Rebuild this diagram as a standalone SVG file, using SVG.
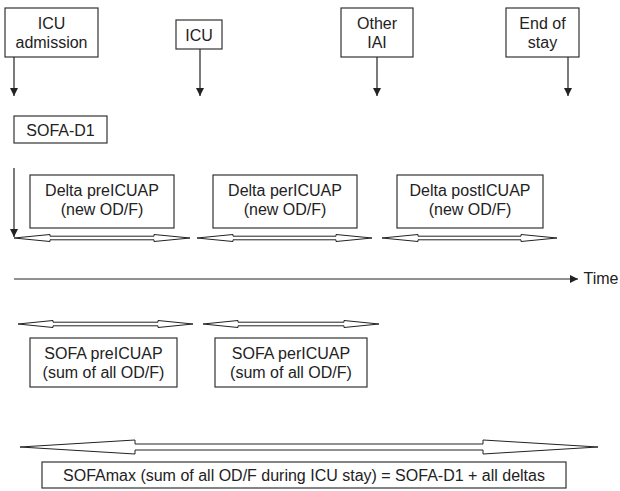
<svg xmlns="http://www.w3.org/2000/svg" width="620" height="491" viewBox="0 0 620 491">
<style>
.box{fill:#fff;stroke:#333;stroke-width:1.2}
.t{font-family:"Liberation Sans",Arial,sans-serif;font-size:16px;fill:#222;text-anchor:middle}
.ln{stroke:#222;stroke-width:1.2;fill:none}
.dbl{fill:#fff;stroke:#222;stroke-width:1}
</style>
<defs>
<marker id="ah" viewBox="0 0 10 10" refX="10" refY="5" markerWidth="8" markerHeight="8" markerUnits="userSpaceOnUse" orient="auto">
<path d="M0,0 L10,5 L0,10 z" fill="#222"/>
</marker>
</defs>
<rect width="620" height="491" fill="#fff"/>

<g id="icu-admission"><rect class="box" x="5" y="8" width="93" height="49"/><text class="t" x="51.5" y="29">ICU</text><text class="t" x="51.5" y="48">admission</text></g>
<g id="icu"><rect class="box" x="176" y="20" width="46" height="29"/><text class="t" x="199" y="41">ICU</text></g>
<g id="other-iai"><rect class="box" x="341" y="8" width="72" height="49"/><text class="t" x="377" y="29">Other</text><text class="t" x="377" y="48">IAI</text></g>
<g id="end-of-stay"><rect class="box" x="506" y="8" width="73" height="49"/><text class="t" x="542.5" y="29">End of</text><text class="t" x="542.5" y="48">stay</text></g>

<g id="sofa-d1"><rect class="box" x="14" y="116" width="93" height="27"/><text class="t" x="60.5" y="136">SOFA-D1</text></g>

<g id="delta-pre"><rect class="box" x="30" y="175" width="144" height="53"/><text class="t" x="102" y="196">Delta preICUAP</text><text class="t" x="102" y="215">(new OD/F)</text></g>
<g id="delta-per"><rect class="box" x="213" y="175" width="144" height="53"/><text class="t" x="285" y="196">Delta perICUAP</text><text class="t" x="285" y="215">(new OD/F)</text></g>
<g id="delta-post"><rect class="box" x="397" y="175" width="146" height="53"/><text class="t" x="470" y="196">Delta postICUAP</text><text class="t" x="470" y="215">(new OD/F)</text></g>

<g id="sofa-pre"><rect class="box" x="30" y="338" width="147" height="49"/><text class="t" x="103.5" y="359">SOFA preICUAP</text><text class="t" x="103.5" y="378">(sum of all OD/F)</text></g>
<g id="sofa-per"><rect class="box" x="215" y="338" width="152" height="49"/><text class="t" x="291" y="359">SOFA perICUAP</text><text class="t" x="291" y="378">(sum of all OD/F)</text></g>

<g id="sofa-max"><rect class="box" x="42" y="462" width="524" height="26"/><text class="t" x="304" y="481">SOFAmax (sum of all OD/F during ICU stay) = SOFA-D1 + all deltas</text></g>

<g id="time-label"><text class="t" x="601" y="284">Time</text></g>

<g id="connectors">
<line class="ln" x1="14" y1="57" x2="14" y2="96" marker-end="url(#ah)"/>
<line class="ln" x1="200" y1="49" x2="200" y2="96" marker-end="url(#ah)"/>
<line class="ln" x1="377" y1="57" x2="377" y2="96" marker-end="url(#ah)"/>
<line class="ln" x1="568" y1="57" x2="568" y2="96" marker-end="url(#ah)"/>
<line class="ln" x1="14" y1="168" x2="14" y2="237" marker-end="url(#ah)"/>
<line class="ln" x1="14" y1="279" x2="578" y2="279" marker-end="url(#ah)"/>

<polygon class="dbl" points="14,238 50,234.5 50,236.2 154,236.2 154,234.5 190,238 154,241.5 154,239.8 50,239.8 50,241.5"/>
<polygon class="dbl" points="197,238 233,234.5 233,236.2 336,236.2 336,234.5 372,238 336,241.5 336,239.8 233,239.8 233,241.5"/>
<polygon class="dbl" points="382,238 418,234.5 418,236.2 521,236.2 521,234.5 557,238 521,241.5 521,239.8 418,239.8 418,241.5"/>

<polygon class="dbl" points="18,324 53,320.5 53,322.2 158,322.2 158,320.5 193,324 158,327.5 158,325.8 53,325.8 53,327.5"/>
<polygon class="dbl" points="203,324 238,320.5 238,322.2 344,322.2 344,320.5 379,324 344,327.5 344,325.8 238,325.8 238,327.5"/>

<polygon class="dbl" points="20,447 135,440 135,444 483,444 483,440 598,447 483,454 483,450 135,450 135,454"/>
</g>
</svg>
